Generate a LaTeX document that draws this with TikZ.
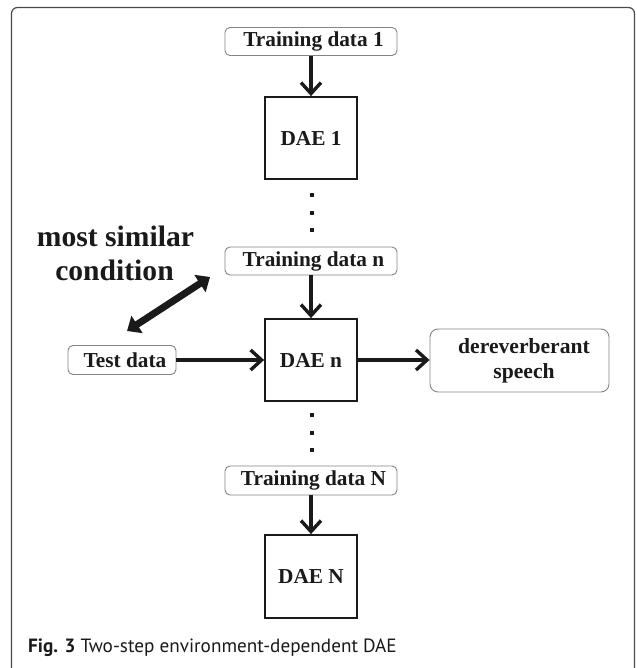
\documentclass[tikz,border=0pt]{standalone}
\usepackage{fontspec}
\setmainfont{Liberation Serif}
\newfontfamily\capfont{PT Sans}
\usetikzlibrary{arrows.meta}
\definecolor{framegray}{HTML}{4A4A4A}
\definecolor{boxgray}{HTML}{858585}
\definecolor{ink}{HTML}{1A1A1A}
\begin{document}
\begin{tikzpicture}[x=1pt,y=-1pt,
  tdbox/.style={draw=boxgray,line width=0.9pt,rounded corners=5pt,minimum width=172pt,minimum height=28pt,inner sep=0pt,font=\fontsize{21.3}{24}\selectfont\bfseries,text=ink},
  daebox/.style={draw=ink,line width=1.8pt,minimum width=92pt,minimum height=82pt,inner sep=0pt,font=\fontsize{21.3}{24}\selectfont\bfseries,text=ink},
  arr/.style={draw=ink,line width=3.4pt,-{Straight Barb[length=11pt,width=20pt]}},
  dbl/.style={draw=ink,line width=7pt,{Triangle[length=12pt,width=20pt]}-{Triangle[length=12pt,width=20pt]}},
  dotmark/.style={fill=ink,minimum size=3.2pt,inner sep=0pt}
]
\useasboundingbox (0,0) rectangle (636,668);
\fill[white] (0,0) rectangle (636,668);
% frame
\begin{scope}
\clip (0,0) rectangle (636,668);
\draw[framegray,line width=1.2pt,rounded corners=6pt] (11.5,690) -- (11.5,7.5) -- (634.5,7.5) -- (634.5,690);
\end{scope}

\node[tdbox] (td1) at (311,41.5) {\hspace*{5pt}Training data 1};
\node[daebox] (dae1) at (311,138) {DAE 1};
\node[tdbox] (tdn) at (311,261) {\hspace*{5pt}Training data n};
\node[daebox] (daen) at (311,360) {DAE n};
\node[tdbox,minimum width=108pt,minimum height=29pt] (test) at (122,360) {\hspace*{6pt}Test data};
\node[tdbox,minimum width=179pt,minimum height=63pt,rounded corners=8pt,align=center,font=\fontsize{21.6}{25}\selectfont\bfseries] (der) at (519.5,360.5) {\hspace*{9pt}dereverberant\\\hspace*{9pt}speech};
\node[tdbox,minimum height=29pt] (tdN) at (311,480.5) {\hspace*{5pt}Training data N};
\node[daebox,minimum height=83pt] (daeN) at (311,576.5) {DAE N};

\node[anchor=base,inner sep=0pt,font=\fontsize{29.6}{34}\selectfont\bfseries,text=ink] (msc1) at (115.5,246) {most similar};
\node[anchor=base,inner sep=0pt,font=\fontsize{29.6}{34}\selectfont\bfseries,text=ink] (msc2) at (114.5,280) {condition};

\foreach \y [count=\i] in {195,213,230} {\node[dotmark] (da\i) at (312,\y) {};}
\foreach \y [count=\i] in {415,433,450} {\node[dotmark] (db\i) at (312,\y) {};}

\draw[arr] (td1.south -| dae1.north) -- (dae1.north);
\draw[arr] (tdn.south -| daen.north) -- (daen.north);
\draw[arr] (tdN.south -| daeN.north) -- (daeN.north);
\draw[arr] (test.east) -- (test.east -| daen.west);
\draw[arr] (daen.east) -- (daen.east -| der.west);

\coordinate (sa) at (210,277);
\coordinate (sb) at (127,331);
\draw[dbl] (sb) -- (sa);

\node[anchor=base west,inner sep=0pt,font=\capfont\fontsize{19.2}{22}\selectfont,text=ink] (cap) at (28,652) {\textbf{Fig. 3} Two-step environment-dependent DAE};
\end{tikzpicture}
\end{document}
